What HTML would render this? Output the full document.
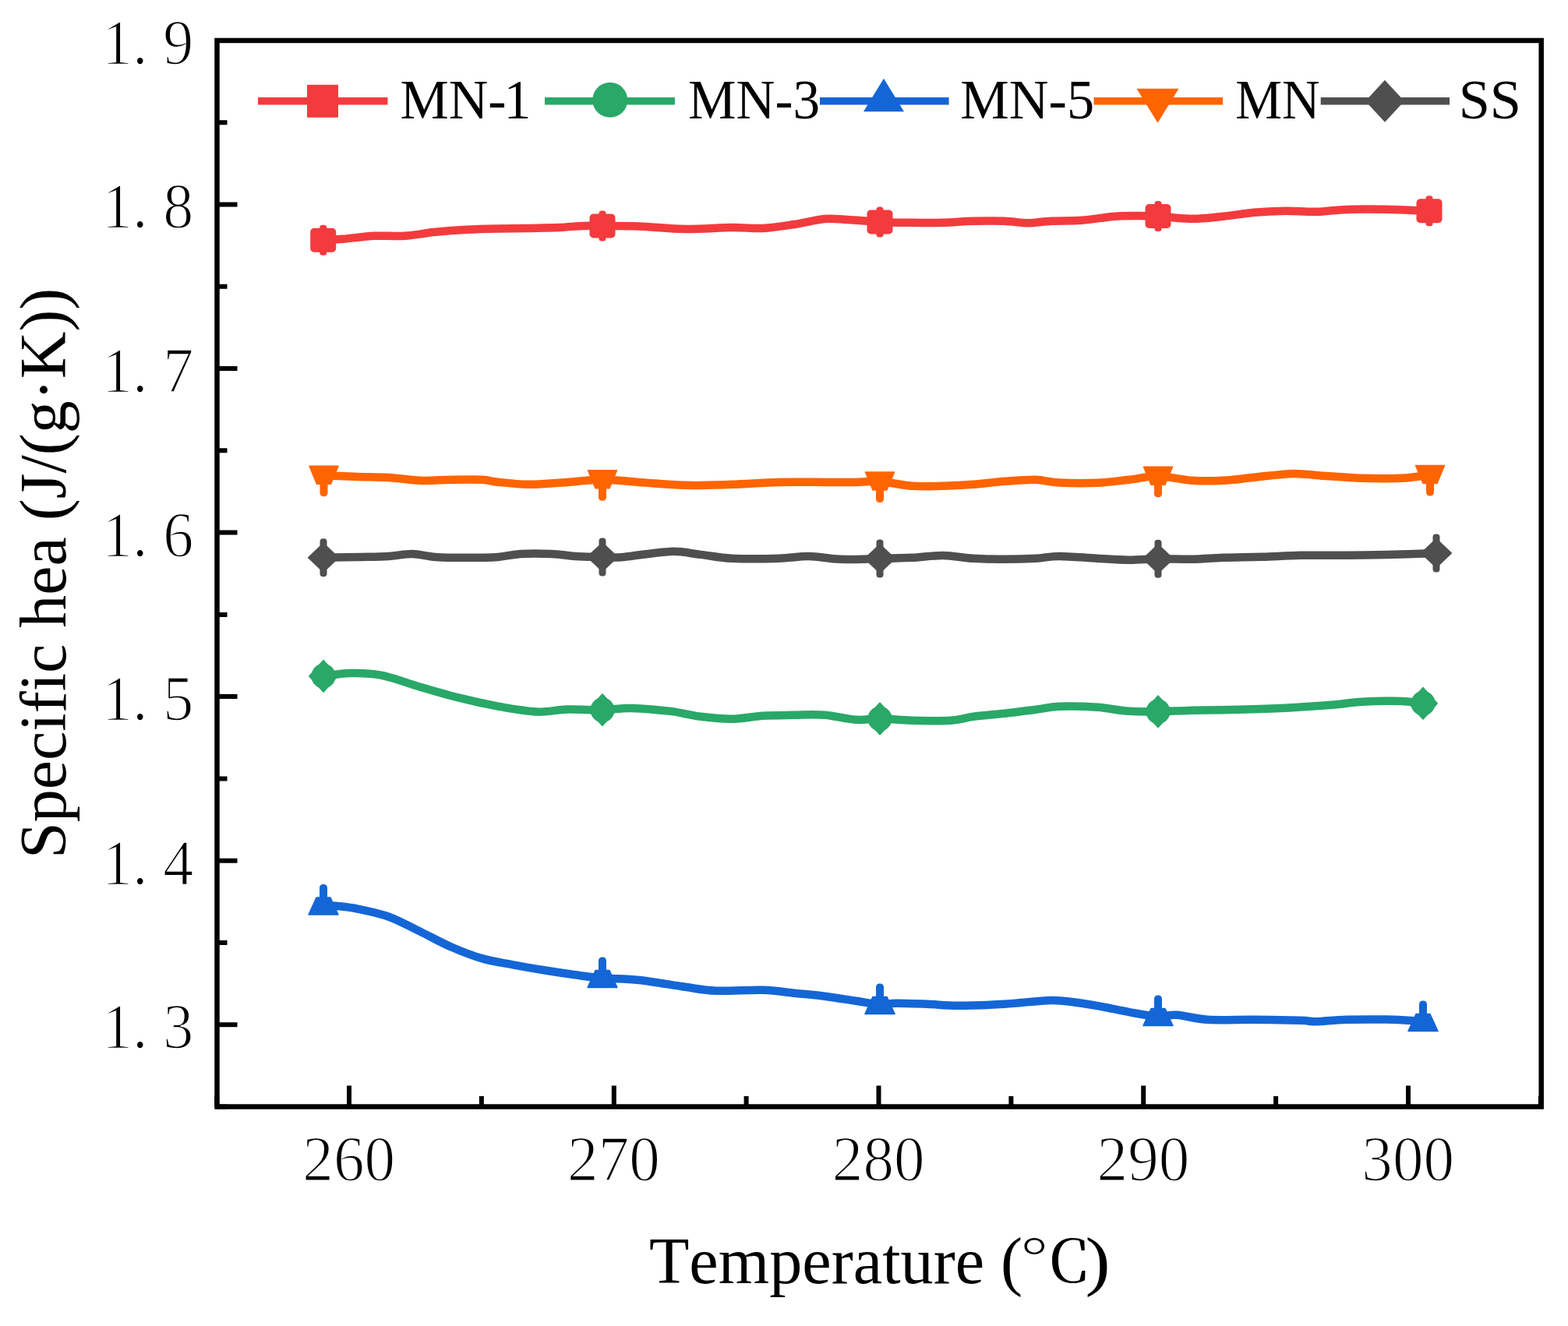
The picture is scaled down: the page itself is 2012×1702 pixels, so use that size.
<!DOCTYPE html>
<html><head><meta charset="utf-8"><title>Specific heat vs temperature</title>
<style>
html,body{margin:0;padding:0;background:#fff;}
body{width:2012px;height:1702px;overflow:hidden;}
svg{display:block;}
text{font-family:"Liberation Serif","Noto Serif CJK SC",serif;fill:#000;font-kerning:none;}
</style></head><body>
<svg width="2012" height="1702" viewBox="0 0 2012 1702">
<rect width="2012" height="1702" fill="#fff"/>
<path d="M416.0,610.2 C423.3,610.5 446.2,611.5 460.0,611.9 C473.8,612.3 485.8,612.1 499.0,612.9 C512.2,613.7 525.7,616.3 539.0,616.8 C552.3,617.3 565.7,616.0 579.0,615.8 C592.3,615.6 609.0,615.3 619.0,615.8 C629.0,616.3 629.2,617.8 639.0,618.8 C648.8,619.8 664.8,621.6 678.0,621.8 C691.2,622.0 702.2,620.8 718.0,619.8 C733.8,618.8 756.0,615.9 773.0,615.8 C790.0,615.6 802.3,617.7 820.0,618.9 C837.7,620.1 859.2,622.3 879.0,622.8 C898.8,623.3 919.0,622.4 939.0,621.8 C959.0,621.1 979.2,619.4 999.0,618.9 C1018.8,618.4 1041.5,618.9 1058.0,618.9 C1074.5,618.9 1086.2,619.0 1098.0,618.9 C1109.8,618.8 1117.0,617.2 1129.0,618.0 C1141.0,618.8 1156.5,622.8 1170.0,623.8 C1183.5,624.8 1196.8,624.1 1210.0,623.8 C1223.2,623.5 1235.8,622.8 1249.0,621.8 C1262.2,620.8 1275.7,618.8 1289.0,617.8 C1302.3,616.8 1317.3,615.5 1329.0,615.8 C1340.7,616.1 1345.8,618.8 1359.0,619.5 C1372.2,620.2 1393.2,620.4 1408.0,619.8 C1422.8,619.2 1435.0,617.2 1448.0,615.8 C1461.0,614.4 1472.3,611.1 1486.0,611.3 C1499.7,611.5 1516.2,615.9 1530.0,616.8 C1543.8,617.7 1555.8,617.5 1569.0,616.8 C1582.2,616.1 1594.0,614.3 1609.0,612.8 C1624.0,611.3 1644.0,608.2 1659.0,607.9 C1674.0,607.6 1684.2,609.8 1699.0,610.8 C1713.8,611.8 1731.5,613.3 1748.0,613.8 C1764.5,614.3 1783.5,614.5 1798.0,613.8 C1812.5,613.1 1828.8,610.2 1835.0,609.5" fill="none" stroke="#ff6400" stroke-width="10.5" stroke-linecap="round" stroke-linejoin="round"/>
<path d="M397.0,598.2 L434.0,598.2 L424.5,621.2 L406.5,621.2Z" fill="#ff6400" stroke="#ff6400" stroke-width="1.5" stroke-linejoin="round"/><rect x="410.5" y="609.2" width="10" height="28" rx="4.5" fill="#ff6400"/>
<path d="M754.5,603.8 L791.5,603.8 L782.0,626.8 L764.0,626.8Z" fill="#ff6400" stroke="#ff6400" stroke-width="1.5" stroke-linejoin="round"/><rect x="768.0" y="614.8" width="10" height="28" rx="4.5" fill="#ff6400"/>
<path d="M1110.5,606.0 L1147.5,606.0 L1138.0,629.0 L1120.0,629.0Z" fill="#ff6400" stroke="#ff6400" stroke-width="1.5" stroke-linejoin="round"/><rect x="1124.0" y="617.0" width="10" height="28" rx="4.5" fill="#ff6400"/>
<path d="M1467.5,599.3 L1504.5,599.3 L1495.0,622.3 L1477.0,622.3Z" fill="#ff6400" stroke="#ff6400" stroke-width="1.5" stroke-linejoin="round"/><rect x="1481.0" y="610.3" width="10" height="28" rx="4.5" fill="#ff6400"/>
<path d="M1816.5,597.5 L1853.5,597.5 L1844.0,620.5 L1826.0,620.5Z" fill="#ff6400" stroke="#ff6400" stroke-width="1.5" stroke-linejoin="round"/><rect x="1830.0" y="608.5" width="10" height="28" rx="4.5" fill="#ff6400"/>
<path d="M415.0,715.8 C422.5,715.6 446.0,715.2 460.0,714.9 C474.0,714.6 487.5,714.6 499.0,713.9 C510.5,713.2 519.0,710.7 529.0,710.9 C539.0,711.1 547.3,714.1 559.0,714.9 C570.7,715.7 585.7,715.8 599.0,715.8 C612.3,715.8 627.5,715.7 639.0,714.9 C650.5,714.1 656.5,711.6 668.0,710.9 C679.5,710.2 696.3,710.4 708.0,710.9 C719.7,711.4 727.2,713.2 738.0,713.9 C748.8,714.6 762.7,714.7 773.0,714.9 C783.3,715.1 785.5,716.1 800.0,714.9 C814.5,713.7 843.5,708.4 860.0,707.9 C876.5,707.4 885.8,710.4 899.0,711.9 C912.2,713.4 922.3,716.0 939.0,716.8 C955.7,717.6 982.5,717.3 999.0,716.8 C1015.5,716.3 1024.8,713.7 1038.0,713.9 C1051.2,714.1 1062.8,717.3 1078.0,717.8 C1093.2,718.3 1113.7,717.3 1129.0,717.0 C1144.3,716.7 1156.5,716.5 1170.0,715.8 C1183.5,715.1 1196.8,712.7 1210.0,712.9 C1223.2,713.1 1235.8,716.0 1249.0,716.8 C1262.2,717.6 1275.7,717.8 1289.0,717.8 C1302.3,717.8 1317.3,717.4 1329.0,716.8 C1340.7,716.1 1345.8,713.9 1359.0,713.9 C1372.2,713.9 1393.2,716.0 1408.0,716.8 C1422.8,717.6 1435.0,718.7 1448.0,718.8 C1461.0,718.9 1472.3,717.5 1486.0,717.3 C1499.7,717.1 1516.2,718.0 1530.0,717.8 C1543.8,717.5 1554.2,716.3 1569.0,715.8 C1583.8,715.3 1602.3,715.3 1619.0,714.8 C1635.7,714.3 1650.8,713.1 1669.0,712.8 C1687.2,712.5 1708.2,713.0 1728.0,712.8 C1747.8,712.6 1768.8,712.3 1788.0,711.8 C1807.2,711.3 1833.8,710.2 1843.0,709.9" fill="none" stroke="#4f4f4f" stroke-width="10.5" stroke-linecap="round" stroke-linejoin="round"/>
<path d="M415.0,697.8 L434.0,715.8 L415.0,733.8 L396.0,715.8Z" fill="#4f4f4f" stroke="#4f4f4f" stroke-width="2" stroke-linejoin="round"/><rect x="410.5" y="691.3" width="9" height="49" rx="4" fill="#4f4f4f"/>
<path d="M773.0,696.9 L792.0,714.9 L773.0,732.9 L754.0,714.9Z" fill="#4f4f4f" stroke="#4f4f4f" stroke-width="2" stroke-linejoin="round"/><rect x="768.5" y="690.4" width="9" height="49" rx="4" fill="#4f4f4f"/>
<path d="M1129.0,699.0 L1148.0,717.0 L1129.0,735.0 L1110.0,717.0Z" fill="#4f4f4f" stroke="#4f4f4f" stroke-width="2" stroke-linejoin="round"/><rect x="1124.5" y="692.5" width="9" height="49" rx="4" fill="#4f4f4f"/>
<path d="M1486.0,699.3 L1505.0,717.3 L1486.0,735.3 L1467.0,717.3Z" fill="#4f4f4f" stroke="#4f4f4f" stroke-width="2" stroke-linejoin="round"/><rect x="1481.5" y="692.8" width="9" height="49" rx="4" fill="#4f4f4f"/>
<path d="M1843.0,691.9 L1862.0,709.9 L1843.0,727.9 L1824.0,709.9Z" fill="#4f4f4f" stroke="#4f4f4f" stroke-width="2" stroke-linejoin="round"/><rect x="1838.5" y="685.4" width="9" height="49" rx="4" fill="#4f4f4f"/>
<path d="M415.0,867.8 C420.8,867.2 437.5,864.2 450.0,864.0 C462.5,863.8 475.2,863.8 490.0,866.8 C504.8,869.8 522.5,876.9 539.0,881.7 C555.5,886.5 572.3,891.6 589.0,895.7 C605.7,899.9 622.5,903.6 639.0,906.6 C655.5,909.6 673.2,912.9 688.0,913.6 C702.8,914.3 713.8,911.0 728.0,910.6 C742.2,910.2 759.3,911.5 773.0,911.2 C786.7,910.9 795.5,908.6 810.0,908.9 C824.5,909.2 845.2,911.1 860.0,912.9 C874.8,914.7 885.8,918.1 899.0,919.8 C912.2,921.4 925.7,923.0 939.0,922.8 C952.3,922.6 965.7,919.6 979.0,918.8 C992.3,918.0 1005.8,918.0 1019.0,917.8 C1032.2,917.6 1044.8,916.8 1058.0,917.8 C1071.2,918.8 1086.2,923.0 1098.0,923.8 C1109.8,924.6 1117.0,922.4 1129.0,922.5 C1141.0,922.6 1154.8,924.3 1170.0,924.7 C1185.2,925.1 1206.8,925.5 1220.0,924.7 C1233.2,923.9 1237.5,921.3 1249.0,919.8 C1260.5,918.3 1275.7,917.3 1289.0,915.8 C1302.3,914.3 1317.3,912.3 1329.0,910.8 C1340.7,909.3 1345.8,907.3 1359.0,906.8 C1372.2,906.3 1393.2,906.8 1408.0,907.8 C1422.8,908.8 1435.0,911.9 1448.0,912.8 C1461.0,913.7 1472.3,913.5 1486.0,913.3 C1499.7,913.1 1512.8,912.2 1530.0,911.8 C1547.2,911.4 1569.2,911.3 1589.0,910.8 C1608.8,910.3 1629.0,909.8 1649.0,908.8 C1669.0,907.8 1692.5,906.1 1709.0,904.8 C1725.5,903.5 1733.2,901.6 1748.0,900.8 C1762.8,900.0 1785.0,899.6 1798.0,899.9 C1811.0,900.2 1821.3,902.3 1826.0,902.8" fill="none" stroke="#29a868" stroke-width="10.5" stroke-linecap="round" stroke-linejoin="round"/>
<path d="M415.0,847.8 L433.0,867.8 L415.0,887.8 L397.0,867.8Z" fill="#29a868" stroke="#29a868" stroke-width="2" stroke-linejoin="round"/><ellipse cx="415.0" cy="867.8" rx="15.5" ry="16" fill="#29a868"/>
<path d="M773.0,891.2 L791.0,911.2 L773.0,931.2 L755.0,911.2Z" fill="#29a868" stroke="#29a868" stroke-width="2" stroke-linejoin="round"/><ellipse cx="773.0" cy="911.2" rx="15.5" ry="16" fill="#29a868"/>
<path d="M1129.0,902.5 L1147.0,922.5 L1129.0,942.5 L1111.0,922.5Z" fill="#29a868" stroke="#29a868" stroke-width="2" stroke-linejoin="round"/><ellipse cx="1129.0" cy="922.5" rx="15.5" ry="16" fill="#29a868"/>
<path d="M1486.0,893.3 L1504.0,913.3 L1486.0,933.3 L1468.0,913.3Z" fill="#29a868" stroke="#29a868" stroke-width="2" stroke-linejoin="round"/><ellipse cx="1486.0" cy="913.3" rx="15.5" ry="16" fill="#29a868"/>
<path d="M1826.0,882.8 L1844.0,902.8 L1826.0,922.8 L1808.0,902.8Z" fill="#29a868" stroke="#29a868" stroke-width="2" stroke-linejoin="round"/><ellipse cx="1826.0" cy="902.8" rx="15.5" ry="16" fill="#29a868"/>
<path d="M415.0,1162.0 C418.0,1162.2 425.5,1162.2 433.0,1163.0 C440.5,1163.8 449.0,1164.5 460.0,1166.8 C471.0,1169.1 485.8,1171.9 499.0,1176.7 C512.2,1181.5 525.7,1189.1 539.0,1195.6 C552.3,1202.1 565.7,1209.7 579.0,1215.5 C592.3,1221.3 605.8,1226.6 619.0,1230.4 C632.2,1234.2 644.8,1235.8 658.0,1238.3 C671.2,1240.8 684.7,1243.1 698.0,1245.3 C711.3,1247.5 725.5,1249.6 738.0,1251.3 C750.5,1253.0 759.3,1254.4 773.0,1255.5 C786.7,1256.6 802.3,1256.1 820.0,1258.0 C837.7,1259.9 862.5,1264.5 879.0,1266.8 C895.5,1269.1 902.3,1271.0 919.0,1271.7 C935.7,1272.4 962.3,1270.3 979.0,1270.8 C995.7,1271.3 1005.8,1273.4 1019.0,1274.7 C1032.2,1276.0 1044.8,1277.0 1058.0,1278.7 C1071.2,1280.4 1086.2,1282.9 1098.0,1284.7 C1109.8,1286.5 1120.3,1288.9 1129.0,1289.4 C1137.7,1289.9 1139.8,1287.9 1150.0,1287.8 C1160.2,1287.7 1176.8,1288.3 1190.0,1288.8 C1203.2,1289.3 1212.5,1290.8 1229.0,1290.8 C1245.5,1290.8 1269.0,1289.9 1289.0,1288.8 C1309.0,1287.7 1332.5,1284.1 1349.0,1283.9 C1365.5,1283.7 1374.8,1286.0 1388.0,1287.8 C1401.2,1289.6 1416.3,1292.6 1428.0,1294.8 C1439.7,1297.0 1448.3,1299.2 1458.0,1300.8 C1467.7,1302.4 1477.3,1304.2 1486.0,1304.5 C1494.7,1304.8 1499.3,1302.1 1510.0,1302.8 C1520.7,1303.5 1533.5,1307.8 1550.0,1308.8 C1566.5,1309.8 1589.2,1308.6 1609.0,1308.8 C1628.8,1309.0 1655.7,1309.4 1669.0,1309.8 C1682.3,1310.2 1679.2,1311.4 1689.0,1311.2 C1698.8,1311.0 1711.5,1309.2 1728.0,1308.8 C1744.5,1308.4 1771.7,1308.3 1788.0,1308.8 C1804.3,1309.2 1819.7,1311.0 1826.0,1311.5" fill="none" stroke="#1466d6" stroke-width="10.5" stroke-linecap="round" stroke-linejoin="round"/>
<path d="M396.0,1174.0 L434.0,1174.0 L424.0,1152.0 L406.0,1152.0Z" fill="#1466d6" stroke="#1466d6" stroke-width="1.5" stroke-linejoin="round"/><rect x="410.0" y="1135.0" width="10" height="28" rx="4.5" fill="#1466d6"/>
<path d="M754.0,1267.5 L792.0,1267.5 L782.0,1245.5 L764.0,1245.5Z" fill="#1466d6" stroke="#1466d6" stroke-width="1.5" stroke-linejoin="round"/><rect x="768.0" y="1228.5" width="10" height="28" rx="4.5" fill="#1466d6"/>
<path d="M1110.0,1301.4 L1148.0,1301.4 L1138.0,1279.4 L1120.0,1279.4Z" fill="#1466d6" stroke="#1466d6" stroke-width="1.5" stroke-linejoin="round"/><rect x="1124.0" y="1262.4" width="10" height="28" rx="4.5" fill="#1466d6"/>
<path d="M1467.0,1316.5 L1505.0,1316.5 L1495.0,1294.5 L1477.0,1294.5Z" fill="#1466d6" stroke="#1466d6" stroke-width="1.5" stroke-linejoin="round"/><rect x="1481.0" y="1277.5" width="10" height="28" rx="4.5" fill="#1466d6"/>
<path d="M1807.0,1323.5 L1845.0,1323.5 L1835.0,1301.5 L1817.0,1301.5Z" fill="#1466d6" stroke="#1466d6" stroke-width="1.5" stroke-linejoin="round"/><rect x="1821.0" y="1284.5" width="10" height="28" rx="4.5" fill="#1466d6"/>
<path d="M415.0,307.5 C419.2,307.4 429.2,307.6 440.0,306.8 C450.8,306.0 466.8,303.5 480.0,302.8 C493.2,302.1 505.8,303.6 519.0,302.8 C532.2,302.0 545.7,299.1 559.0,297.8 C572.3,296.5 585.7,295.5 599.0,294.8 C612.3,294.1 625.8,293.8 639.0,293.5 C652.2,293.2 664.8,293.2 678.0,292.9 C691.2,292.6 706.3,292.4 718.0,291.9 C729.7,291.4 738.8,290.3 748.0,290.0 C757.2,289.7 761.0,289.9 773.0,290.0 C785.0,290.1 802.3,289.8 820.0,290.5 C837.7,291.2 859.2,293.8 879.0,294.0 C898.8,294.2 922.3,292.2 939.0,292.0 C955.7,291.8 965.7,293.7 979.0,293.0 C992.3,292.3 1005.8,290.0 1019.0,288.0 C1032.2,286.0 1046.5,282.0 1058.0,281.0 C1069.5,280.0 1076.2,281.4 1088.0,282.0 C1099.8,282.6 1115.3,284.3 1129.0,284.9 C1142.7,285.5 1156.5,285.6 1170.0,285.8 C1183.5,286.0 1196.8,286.1 1210.0,285.8 C1223.2,285.5 1235.8,284.1 1249.0,283.8 C1262.2,283.5 1277.3,283.4 1289.0,283.8 C1300.7,284.2 1309.0,286.3 1319.0,286.3 C1329.0,286.3 1337.5,284.4 1349.0,283.8 C1360.5,283.2 1374.8,283.8 1388.0,282.8 C1401.2,281.8 1416.3,278.9 1428.0,277.9 C1439.7,276.9 1448.3,277.0 1458.0,276.9 C1467.7,276.8 1474.0,276.9 1486.0,277.5 C1498.0,278.1 1516.2,280.8 1530.0,280.8 C1543.8,280.9 1555.8,279.1 1569.0,277.8 C1582.2,276.5 1595.7,274.0 1609.0,272.8 C1622.3,271.6 1635.7,271.0 1649.0,270.8 C1662.3,270.6 1675.8,272.1 1689.0,271.8 C1702.2,271.5 1711.5,269.4 1728.0,268.9 C1744.5,268.4 1770.3,268.6 1788.0,268.9 C1805.7,269.2 1826.3,270.5 1834.0,270.8" fill="none" stroke="#f33b3e" stroke-width="10.5" stroke-linecap="round" stroke-linejoin="round"/>
<rect x="398.2" y="292.8" width="33" height="31" rx="5" fill="#f33b3e"/><rect x="410.2" y="288.8" width="9" height="39" rx="3.5" fill="#f33b3e"/>
<rect x="756.5" y="274.5" width="33" height="31" rx="5" fill="#f33b3e"/><rect x="768.5" y="270.5" width="9" height="39" rx="3.5" fill="#f33b3e"/>
<rect x="1112.5" y="269.4" width="33" height="31" rx="5" fill="#f33b3e"/><rect x="1124.5" y="265.4" width="9" height="39" rx="3.5" fill="#f33b3e"/>
<rect x="1469.5" y="262.0" width="33" height="31" rx="5" fill="#f33b3e"/><rect x="1481.5" y="258.0" width="9" height="39" rx="3.5" fill="#f33b3e"/>
<rect x="1817.5" y="255.3" width="33" height="31" rx="5" fill="#f33b3e"/><rect x="1829.5" y="251.3" width="9" height="39" rx="3.5" fill="#f33b3e"/>
<rect x="278.5" y="52" width="1699.2" height="1368.5" fill="none" stroke="#000" stroke-width="6.5"/>
<path d="M278.1,1420.5V1407.0 M448.0,1420.5V1393.5 M617.9,1420.5V1407.0 M787.8,1420.5V1393.5 M957.6,1420.5V1407.0 M1127.5,1420.5V1393.5 M1297.4,1420.5V1407.0 M1467.2,1420.5V1393.5 M1637.1,1420.5V1407.0 M1807.0,1420.5V1393.5 M1976.9,1420.5V1407.0 M278.5,1420.5H291.5 M278.5,1315.3H304.5 M278.5,1210.0H291.5 M278.5,1104.7H304.5 M278.5,999.4H291.5 M278.5,894.1H304.5 M278.5,788.9H291.5 M278.5,683.6H304.5 M278.5,578.3H291.5 M278.5,473.0H304.5 M278.5,367.7H291.5 M278.5,262.5H304.5 M278.5,157.2H291.5 M278.5,51.9H304.5" stroke="#000" stroke-width="6" fill="none"/>
<text transform="matrix(1.0010,0,0,1.0529,131.09,81.90)" font-size="78" stroke="#fff" stroke-width="1.6" xml:space="preserve">1. 9</text>
<text transform="matrix(1.0010,0,0,1.0529,131.09,292.46)" font-size="78" stroke="#fff" stroke-width="1.6" xml:space="preserve">1. 8</text>
<text transform="matrix(1.0010,0,0,1.0529,131.09,503.02)" font-size="78" stroke="#fff" stroke-width="1.6" xml:space="preserve">1. 7</text>
<text transform="matrix(1.0010,0,0,1.0529,131.09,713.58)" font-size="78" stroke="#fff" stroke-width="1.6" xml:space="preserve">1. 6</text>
<text transform="matrix(1.0010,0,0,1.0529,131.09,924.14)" font-size="78" stroke="#fff" stroke-width="1.6" xml:space="preserve">1. 5</text>
<text transform="matrix(1.0010,0,0,1.0529,131.09,1134.70)" font-size="78" stroke="#fff" stroke-width="1.6" xml:space="preserve">1. 4</text>
<text transform="matrix(1.0010,0,0,1.0529,131.09,1345.26)" font-size="78" stroke="#fff" stroke-width="1.6" xml:space="preserve">1. 3</text>
<text transform="matrix(1.0147,0,0,1.0490,388.34,1514.60)" font-size="78" stroke="#fff" stroke-width="1.6" xml:space="preserve">260</text>
<text transform="matrix(1.0147,0,0,1.0490,728.09,1514.60)" font-size="78" stroke="#fff" stroke-width="1.6" xml:space="preserve">270</text>
<text transform="matrix(1.0147,0,0,1.0490,1067.84,1514.60)" font-size="78" stroke="#fff" stroke-width="1.6" xml:space="preserve">280</text>
<text transform="matrix(1.0147,0,0,1.0490,1407.59,1514.60)" font-size="78" stroke="#fff" stroke-width="1.6" xml:space="preserve">290</text>
<text transform="matrix(1.0147,0,0,1.0490,1747.34,1514.60)" font-size="78" stroke="#fff" stroke-width="1.6" xml:space="preserve">300</text>
<text transform="matrix(1.0027,0,0,1.0039,832.89,1646.73)" font-size="84" xml:space="preserve">Temperature (</text>
<text transform="matrix(1.1186,0,0,0.8612,1307.39,1644.78)" font-size="84" xml:space="preserve">℃</text>
<text transform="matrix(1.1476,0,0,1.0039,1392.56,1646.73)" font-size="84" xml:space="preserve">)</text>
<text transform="translate(84.28,1101.90) rotate(-90) scale(0.9999,1.0013)" font-size="84" xml:space="preserve">Specific hea (J/(g·K))</text>
<text transform="matrix(0.9719,0,0,0.9936,513.46,152.10)" font-size="72" xml:space="preserve">MN-<tspan dx="-3">1</tspan></text>
<text transform="matrix(0.9608,0,0,0.9936,883.08,152.10)" font-size="72" xml:space="preserve">MN-3</text>
<text transform="matrix(0.9766,0,0,0.9936,1232.35,152.10)" font-size="72" xml:space="preserve">MN-5</text>
<text transform="matrix(0.9348,0,0,0.9936,1585.13,152.10)" font-size="72" xml:space="preserve">MN</text>
<text transform="matrix(1.0028,0,0,0.9936,1871.69,152.10)" font-size="72" xml:space="preserve">SS</text>
<path d="M331,129.8H497.5" stroke="#f33b3e" stroke-width="9.5"/>
<rect x="394" y="108.80000000000001" width="40" height="42" fill="#f33b3e"/>
<path d="M699,129.8H866" stroke="#29a868" stroke-width="9.5"/>
<circle cx="782.8" cy="128.3" r="22.5" fill="#29a868"/>
<path d="M1052,129.8H1217.6" stroke="#1466d6" stroke-width="9.5"/>
<path d="M1134,100.80000000000001 L1160,143.3 L1108,143.3Z" fill="#1466d6"/>
<path d="M1403.6,129.8H1569" stroke="#ff6400" stroke-width="9.5"/>
<path d="M1458.5,113.80000000000001 L1512.5,113.80000000000001 L1485.5,157.8Z" fill="#ff6400"/>
<path d="M1694.7,129.8H1860" stroke="#4f4f4f" stroke-width="9.5"/>
<path d="M1777,102.80000000000001 L1802,129.8 L1777,156.8 L1752,129.8Z" fill="#4f4f4f"/>
</svg>
</body></html>
